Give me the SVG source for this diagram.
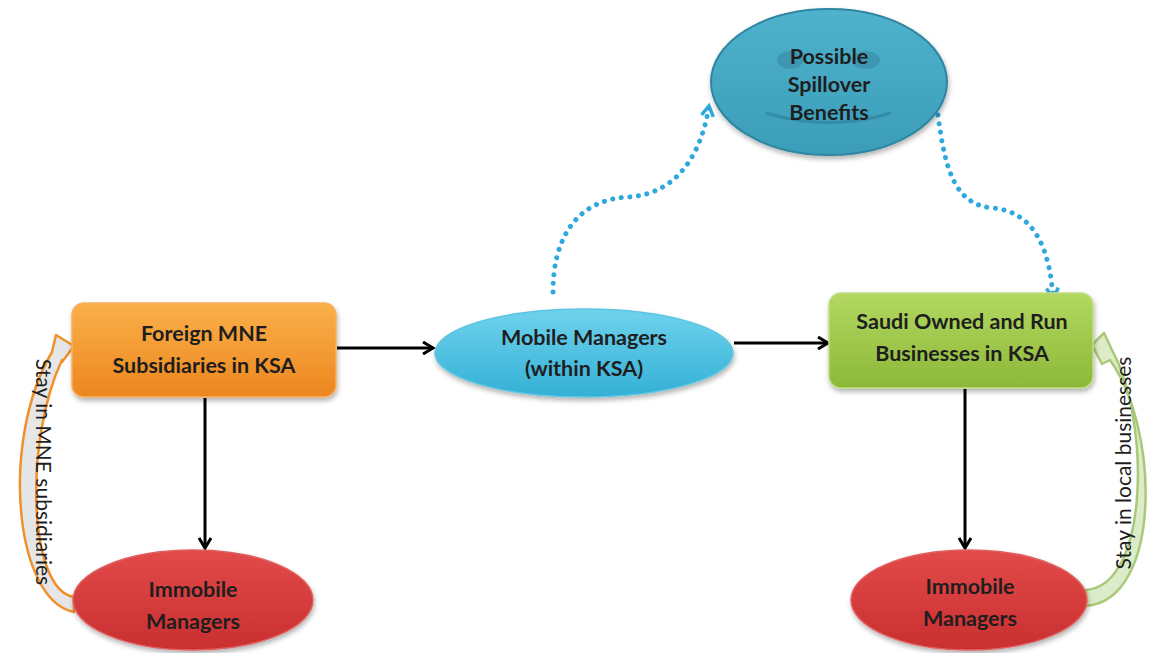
<svg xmlns="http://www.w3.org/2000/svg" width="1149" height="653" viewBox="0 0 1149 653">
  <style>
    .lbl { font-family: Lato, "Open Sans", "Liberation Sans", sans-serif; font-weight: bold; font-size: 21.5px; fill: #1e1e1e; text-anchor: middle; }
    .side { font-family: Lato, "Open Sans", "Liberation Sans", sans-serif; font-size: 21px; fill: #1e1e1e; text-anchor: middle; }
    .flow { fill: none; stroke: #000; stroke-width: 3; }
    .dots { fill: none; stroke: #2fa8dc; stroke-width: 5; stroke-dasharray: 0.1 8.5; stroke-linecap: round; }
  </style>
  <defs>
    <linearGradient id="gOrange" x1="0" y1="0" x2="0" y2="1">
      <stop offset="0" stop-color="#fbb04a"/>
      <stop offset="1" stop-color="#ec861e"/>
    </linearGradient>
    <linearGradient id="gGreen" x1="0" y1="0" x2="0" y2="1">
      <stop offset="0" stop-color="#b3d862"/>
      <stop offset="1" stop-color="#8cb838"/>
    </linearGradient>
    <linearGradient id="gCyan" x1="0" y1="0" x2="0" y2="1">
      <stop offset="0" stop-color="#6fd2ec"/>
      <stop offset="1" stop-color="#34b0d6"/>
    </linearGradient>
    <linearGradient id="gRed" x1="0" y1="0" x2="0" y2="1">
      <stop offset="0" stop-color="#e24a4a"/>
      <stop offset="1" stop-color="#c92f30"/>
    </linearGradient>
    <linearGradient id="gTeal" x1="0" y1="0" x2="0" y2="1">
      <stop offset="0" stop-color="#4fb2cc"/>
      <stop offset="1" stop-color="#3b9db9"/>
    </linearGradient>
    <filter id="shadow" x="-10%" y="-10%" width="120%" height="130%">
      <feDropShadow dx="1" dy="3" stdDeviation="2.5" flood-color="#000" flood-opacity="0.3"/>
    </filter>
    <marker id="vee" markerWidth="14" markerHeight="14" refX="11" refY="7" orient="auto" markerUnits="userSpaceOnUse">
      <path d="M1,1 L11,7 L1,13" fill="none" stroke="#000" stroke-width="3"/>
    </marker>
    <marker id="veeBlue" markerWidth="16" markerHeight="16" refX="12" refY="8" orient="auto" markerUnits="userSpaceOnUse">
      <path d="M2,2 L12,8 L2,14" fill="none" stroke="#2fa8dc" stroke-width="3.5"/>
    </marker>
  </defs>

  <!-- connectors -->
  <g id="connectors">
    <line class="flow" x1="337" y1="348" x2="433" y2="348" marker-end="url(#vee)"/>
    <line class="flow" x1="734" y1="343" x2="828" y2="343" marker-end="url(#vee)"/>
    <line class="flow" x1="205" y1="398" x2="205" y2="548" marker-end="url(#vee)"/>
    <line class="flow" x1="965" y1="389" x2="965" y2="548" marker-end="url(#vee)"/>
    <path class="dots" d="M553,292 C553,240 575,200 628,197 C680,194 702,150 709,106" marker-end="url(#veeBlue)"/>
    <path class="dots" d="M938,115 C945,170 955,205 993,208 C1035,212 1050,250 1053,298" marker-end="url(#veeBlue)"/>
    <!-- looping block arrows back to the employer nodes -->
    <path d="M74,612 C14,600 0,440 52,352 L56,335 L74,346 L62,362 L62,360 C24,440 28,590 74,597 Z" fill="#e6e6e6" stroke="#f0902a" stroke-width="2.5" stroke-linejoin="round"/>
    <path d="M1086,606 C1162,600 1160,430 1110,360 L1102,364 L1092,345 L1104,333 L1112,350 C1150,420 1150,585 1086,590 Z" fill="#dcecc8" stroke="#a9c97a" stroke-width="2.5" stroke-linejoin="round"/>
    <text class="side" transform="translate(43,472) rotate(90)" dy="7">Stay in MNE subsidiaries</text>
    <text class="side" transform="translate(1124,463) rotate(-90)" dy="7">Stay in local businesses</text>
  </g>

  <!-- nodes -->
  <g id="foreign-mne">
    <rect x="72" y="303" width="264" height="94" rx="12" fill="url(#gOrange)" stroke="#f6b060" stroke-width="1.5" filter="url(#shadow)"/>
    <text class="lbl" x="204" y="341">Foreign MNE</text>
    <text class="lbl" x="204" y="373">Subsidiaries in KSA</text>
  </g>

  <g id="mobile-managers">
    <ellipse cx="584" cy="353" rx="149" ry="44" fill="url(#gCyan)" stroke="#5cc6e2" stroke-width="1.5" filter="url(#shadow)"/>
    <text class="lbl" x="584" y="345">Mobile Managers</text>
    <text class="lbl" x="584" y="376">(within KSA)</text>
  </g>

  <g id="saudi-businesses">
    <rect x="829" y="293" width="264" height="95" rx="12" fill="url(#gGreen)" stroke="#c2dd86" stroke-width="1.5" filter="url(#shadow)"/>
    <text class="lbl" x="962" y="329">Saudi Owned and Run</text>
    <text class="lbl" x="962" y="361">Businesses in KSA</text>
  </g>

  <g id="spillover">
    <ellipse cx="829" cy="82" rx="118" ry="73" fill="url(#gTeal)" stroke="#2f86a2" stroke-width="2" filter="url(#shadow)"/>
    <ellipse cx="790" cy="60" rx="13" ry="9" fill="#3b8fa8" opacity="0.75"/>
    <ellipse cx="866" cy="60" rx="14" ry="9" fill="#3b8fa8" opacity="0.75"/>
    <path d="M766,113 Q829,132 891,113" fill="none" stroke="#2f86a2" stroke-width="3" opacity="0.8"/>
    <text class="lbl" x="829" y="64">Possible</text>
    <text class="lbl" x="829" y="92">Spillover</text>
    <text class="lbl" x="829" y="120">Benefits</text>
  </g>

  <g id="immobile-mne">
    <ellipse cx="193" cy="600" rx="120" ry="50" fill="url(#gRed)" stroke="#e06060" stroke-width="1.5" filter="url(#shadow)"/>
    <text class="lbl" x="193" y="597">Immobile</text>
    <text class="lbl" x="193" y="629">Managers</text>
  </g>

  <g id="immobile-local">
    <ellipse cx="969" cy="600" rx="118" ry="50" fill="url(#gRed)" stroke="#e06060" stroke-width="1.5" filter="url(#shadow)"/>
    <text class="lbl" x="970" y="594">Immobile</text>
    <text class="lbl" x="970" y="626">Managers</text>
  </g>
</svg>
